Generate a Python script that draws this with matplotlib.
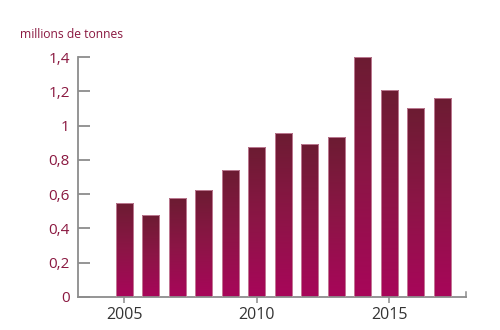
import matplotlib.pyplot as plt
import numpy as np
from matplotlib.colors import LinearSegmentedColormap

years = [2005, 2006, 2007, 2008, 2009, 2010, 2011, 2012, 2013, 2014, 2015, 2016, 2017]
tonnes = [0.55, 0.48, 0.575, 0.625, 0.74, 0.875, 0.955, 0.895, 0.935, 1.40, 1.21, 1.10, 1.16]
yticks = [0, 0.2, 0.4, 0.6, 0.8, 1, 1.2, 1.4]
ytick_labels = ['0', '0,2', '0,4', '0,6', '0,8', '1', '1,2', '1,4']
xticks = [2005, 2010, 2015]

plt.rcParams['font.family'] = ['Open Sans', 'DejaVu Sans']
maroon = '#8a1840'
grey = '#8c8c8c'

fig = plt.figure(figsize=(5, 3.3), dpi=100)
ax = fig.add_axes([0.156, 0.1, 0.776, 0.727])

# bottom-to-top gradient, magenta to dark maroon
cmap = LinearSegmentedColormap.from_list('wine', ['#a8065a', '#8c1546', '#6c1c32'])
grad = np.linspace(0, 1, 256).reshape(-1, 1)

bars = ax.bar(years, tonnes, width=0.65, color='none', edgecolor='#c98aa0', linewidth=0.6, zorder=3)
for b in bars:
    x0, w, h = b.get_x(), b.get_width(), b.get_height()
    im = ax.imshow(grad, cmap=cmap, origin='lower', aspect='auto',
                   extent=[x0, x0 + w, 0, h], zorder=2)
    im.set_clip_path(b)

ax.set_xlim(2003.26, 2017.9)
ax.set_ylim(0, 1.4)

for side in ['top', 'right']:
    ax.spines[side].set_visible(False)
for side in ['left', 'bottom']:
    ax.spines[side].set_color(grey)
    ax.spines[side].set_linewidth(1.3)

ax.set_yticks(yticks)
ax.set_yticklabels(ytick_labels)
ax.tick_params(axis='y', direction='in', length=8.5, width=1.3, color=grey,
               labelcolor=maroon, labelsize=11, pad=6)
ax.set_xticks(xticks)
ax.set_xticklabels([str(x) for x in xticks])
ax.tick_params(axis='x', direction='out', length=4, width=1.1, color=grey,
               labelcolor='#333333', labelsize=11.5, pad=3)

# small upward tick closing the x axis
ax.plot([2017.9, 2017.9], [0, 0.03], color=grey, lw=1.1, clip_on=False)

fig.text(0.04, 0.895, 'millions de tonnes', color=maroon, fontsize=8.7, va='center')

fig.savefig('out.png', dpi=100)
